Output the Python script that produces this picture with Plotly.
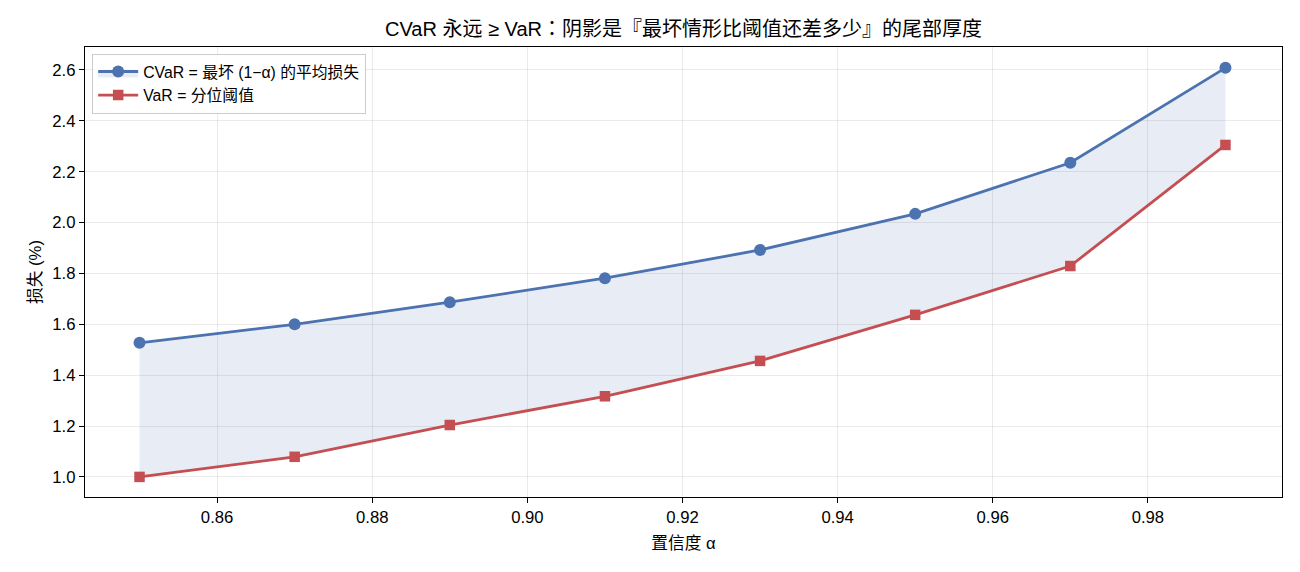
import plotly.graph_objects as go

alpha = [0.85, 0.87, 0.89, 0.91, 0.93, 0.95, 0.97, 0.99]
cvar = [1.527, 1.600, 1.687, 1.781, 1.892, 2.034, 2.235, 2.608]
var = [1.000, 1.079, 1.204, 1.317, 1.456, 1.637, 1.829, 2.305]
x_ticks = [0.86, 0.88, 0.90, 0.92, 0.94, 0.96, 0.98]
y_ticks = [1.0, 1.2, 1.4, 1.6, 1.8, 2.0, 2.2, 2.4, 2.6]

BLUE = "#4c72b0"
RED = "#c44e52"
FONT = "Liberation Sans, Arial, Noto Sans CJK SC, sans-serif"

fig = go.Figure()
fig.add_trace(go.Scatter(x=alpha, y=var, mode="lines", line=dict(width=0, color=RED),
                         showlegend=False, hoverinfo="skip"))
fig.add_trace(go.Scatter(x=alpha, y=cvar, mode="lines+markers", name="CVaR = 最坏 (1−α) 的平均损失",
                         fill="tonexty", fillcolor="rgba(76,114,176,0.13)",
                         line=dict(color=BLUE, width=2.8),
                         marker=dict(symbol="circle", size=12, color=BLUE)))
fig.add_trace(go.Scatter(x=alpha, y=var, mode="lines+markers", name="VaR = 分位阈值",
                         line=dict(color=RED, width=2.8),
                         marker=dict(symbol="square", size=10.5, color=RED)))

axis_common = dict(showline=True, linecolor="black", linewidth=1.2, mirror=True,
                   ticks="outside", ticklen=5, tickcolor="black",
                   showgrid=True, gridcolor="rgba(0,0,0,0.08)", gridwidth=1,
                   zeroline=False, tickfont=dict(size=16.7, color="black"))

title_text = ("CVaR 永远 ≥ VaR<span style=\"font-family:'Noto Sans CJK TC'\">：</span>"
              "阴影是『最坏情形比阈值还差多少』的尾部厚度")

fig.update_layout(
    width=1300, height=572,
    margin=dict(l=85, r=18, t=47, b=75),
    paper_bgcolor="white", plot_bgcolor="white",
    font=dict(family=FONT, color="black"),
    title=dict(text=title_text, xref="paper",
               x=0.5, xanchor="center", y=1 - 29 / 572, yanchor="middle",
               font=dict(size=20, color="black")),
    xaxis=dict(range=[0.84297, 0.99729], tickvals=x_ticks,
               ticktext=[f"{v:.2f}" for v in x_ticks],
               title=dict(text="置信度 α", font=dict(size=16.7), standoff=11), **axis_common),
    yaxis=dict(range=[0.921, 2.690], tickvals=y_ticks,
               ticktext=[f"{v:.1f}" for v in y_ticks],
               title=dict(text="损失 (%)", font=dict(size=16.7), standoff=6), **axis_common),
    legend=dict(x=0.006, y=0.985, xanchor="left", yanchor="top", traceorder="normal",
                bgcolor="rgba(255,255,255,0.8)", bordercolor="#cccccc", borderwidth=1,
                font=dict(size=15.8, color="black"), itemwidth=40, tracegroupgap=2),
    showlegend=True,
)

fig.write_html("out.html")
